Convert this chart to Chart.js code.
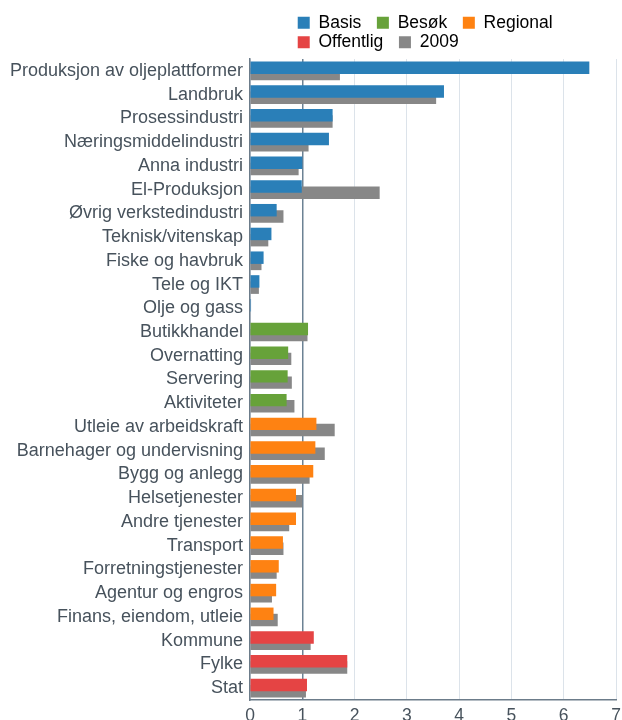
<!DOCTYPE html>
<html>
<head>
<meta charset="utf-8">
<script src="https://cdn.jsdelivr.net/npm/chart.js@4"></script>
<style>
  html, body { margin: 0; background: #fff; overflow: hidden; }
  #wrap { width: 622px; height: 733px; }
</style>
</head>
<body>
<div id="wrap"><canvas id="chart"></canvas></div>
<script>
// Categories, top to bottom
const categories = [
    'Produksjon av oljeplattformer', 'Landbruk', 'Prosessindustri', 'Næringsmiddelindustri',
    'Anna industri', 'El-Produksjon', 'Øvrig verkstedindustri', 'Teknisk/vitenskap',
    'Fiske og havbruk', 'Tele og IKT', 'Olje og gass',
    'Butikkhandel', 'Overnatting', 'Servering', 'Aktiviteter',
    'Utleie av arbeidskraft', 'Barnehager og undervisning', 'Bygg og anlegg', 'Helsetjenester',
    'Andre tjenester', 'Transport', 'Forretningstjenester', 'Agentur og engros', 'Finans, eiendom, utleie',
    'Kommune', 'Fylke', 'Stat'
];
// which sector each category belongs to
const groups = [
    'Basis', 'Basis', 'Basis', 'Basis', 'Basis', 'Basis', 'Basis', 'Basis', 'Basis', 'Basis', 'Basis',
    'Besøk', 'Besøk', 'Besøk', 'Besøk',
    'Regional', 'Regional', 'Regional', 'Regional', 'Regional', 'Regional', 'Regional', 'Regional', 'Regional',
    'Offentlig', 'Offentlig', 'Offentlig'
];
const currentValues = [
    6.49, 3.71, 1.58, 1.51, 1.00, 0.99, 0.51, 0.41, 0.26, 0.18, 0.02,
    1.11, 0.73, 0.72, 0.70,
    1.27, 1.25, 1.21, 0.88, 0.88, 0.63, 0.55, 0.50, 0.45,
    1.22, 1.86, 1.09
];
const values2009 = [
    1.72, 3.56, 1.58, 1.12, 0.93, 2.48, 0.64, 0.35, 0.22, 0.17, 0,
    1.10, 0.79, 0.80, 0.85,
    1.62, 1.43, 1.14, 1.00, 0.75, 0.64, 0.51, 0.42, 0.53,
    1.16, 1.86, 1.07
];
const xTicks = [0, 1, 2, 3, 4, 5, 6, 7];

const groupColors = {
    'Basis': '#2a7fb8',
    'Besøk': '#67a23a',
    'Regional': '#fe8212',
    'Offentlig': '#e54444'
};
const greyColor = '#878787';
const textColor = '#47525c';

Chart.defaults.font.family = 'Arial, "Liberation Sans", sans-serif';
Chart.defaults.color = textColor;

// center the legend block over the plot but keep its rows left aligned
const legendBlock = {
    id: 'legendBlock',
    afterLayout(chart) {
        const legend = chart.legend;
        const pad = legend.options.labels.padding;
        const widest = Math.max(...legend.lineWidths);
        const mid = (chart.chartArea.left + chart.chartArea.right) / 2;
        legend.left = mid - widest / 2 - pad;
        legend.top += 2;
    }
};

const ctx = document.getElementById('chart').getContext('2d');
new Chart(ctx, {
    type: 'bar',
    data: {
        labels: categories,
        datasets: [{
            label: 'Sektor',
            data: currentValues,
            backgroundColor: groups.map(g => groupColors[g])
        }, {
            label: '2009',
            data: values2009,
            backgroundColor: greyColor
        }]
    },
    plugins: [legendBlock],
    options: {
        indexAxis: 'y',
        responsive: true,
        maintainAspectRatio: false,
        animation: false,
        categoryPercentage: 0.525,
        barPercentage: 2.0,
        layout: { padding: { right: 0, top: 10, bottom: 0 } },
        plugins: {
            tooltip: { enabled: false },
            legend: {
                position: 'top',
                align: 'start',
                fullSize: false,
                labels: {
                    font: { size: 17.5 },
                    color: textColor,
                    boxWidth: 12,
                    boxHeight: 12,
                    padding: 2,
                    generateLabels: function() {
                        // trailing spaces widen the gap between items without widening the rows
                        const names = Object.keys(groupColors);
                        const items = names.map(n => ({
                            text: n + '\u2002 ', fillStyle: groupColors[n], strokeStyle: groupColors[n], lineWidth: 0
                        }));
                        items.push({ text: '2009\u2002 ', fillStyle: greyColor, strokeStyle: greyColor, lineWidth: 0 });
                        return items;
                    }
                }
            }
        },
        scales: {
            x: {
                min: 0,
                max: 7,
                afterBuildTicks: function(scale) {
                    scale.ticks = xTicks.map(v => ({ value: v }));
                },
                afterFit: function(scale) { scale.paddingRight = 6; },
                ticks: { font: { size: 17.5 }, color: textColor, padding: 6 },
                grid: {
                    drawTicks: false,
                    color: function(c) {
                        return c.tick && c.tick.value === 1 ? '#6c8294' : '#dce3ea';
                    },
                    lineWidth: function(c) {
                        return c.tick && c.tick.value === 1 ? 1.5 : 1;
                    }
                },
                border: { color: '#6c7c8a', width: 1.5 }
            },
            y: {
                afterFit: function(scale) { scale.width = 250; },
                ticks: { font: { size: 18 }, color: textColor, padding: 7, autoSkip: false },
                grid: { display: false, drawTicks: false },
                border: { color: '#6c7c8a', width: 1.5 }
            }
        }
    }
});
</script>
</body>
</html>
